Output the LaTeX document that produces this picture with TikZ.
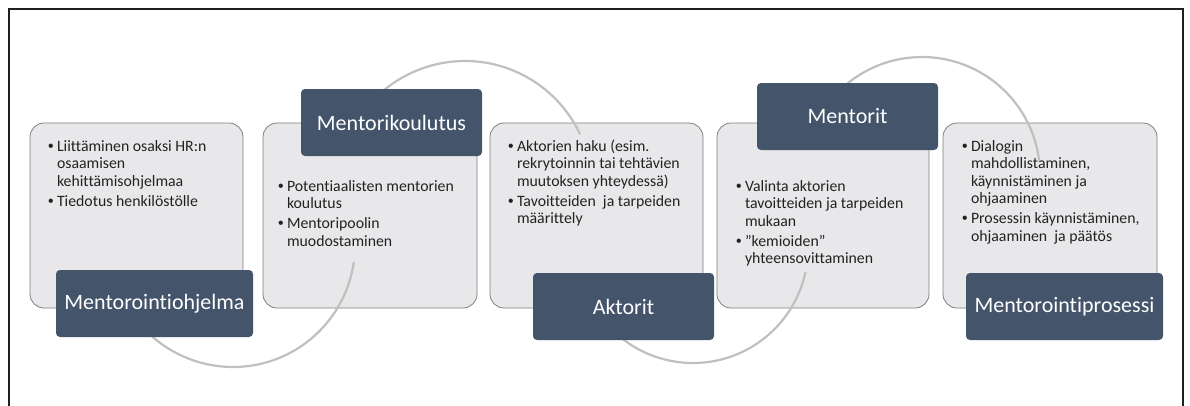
\documentclass[tikz,border=0pt]{standalone}
\usepackage{fontspec}
\setmainfont{Carlito}[Ligatures=NoCommon]
\newfontfamily\bulletfont{Liberation Sans}
\definecolor{darkslate}{HTML}{44546A}
\definecolor{lightfill}{HTML}{E8E8EA}
\definecolor{boxedge}{HTML}{7F7F7F}
\definecolor{arcgray}{HTML}{C0C0C0}
\definecolor{bodyink}{HTML}{222222}
\definecolor{frameink}{HTML}{1E1E1E}
% bullet with a fixed hanging width
\newcommand{\bl}{\makebox[9pt][l]{\bulletfont\textbullet}}
\begin{document}
\begin{tikzpicture}[x=1pt,y=-1pt,
  lightbox/.style={draw=boxedge, line width=0.8pt, fill=lightfill, rounded corners=14pt,
    inner sep=0pt, outer sep=0pt, anchor=north west, minimum height=185pt},
  darkbox/.style={fill=darkslate, rounded corners=4pt, inner sep=0pt, outer sep=0pt,
    anchor=north west, minimum height=67pt, text=white, font=\fontsize{22}{26}\selectfont},
  bodytext/.style={anchor=base west, inner sep=0pt, outer sep=0pt, text=bodyink,
    font=\fontsize{15.8}{17.5}\selectfont},
  flowarc/.style={draw=arcgray, line width=2.2pt},
  frameline/.style={draw=frameink, line width=2pt},
]
\useasboundingbox (0,0) rectangle (1190,405);
\clip (0,0) rectangle (1190,405);
\fill[white] (0,0) rectangle (1190,405);

% outer frame
\draw[frameline] (8.5,410) -- (8.5,8.5) -- (1183,8.5) -- (1183,410);

% content panels
\node[lightbox, minimum width=213pt] (b1) at (30,123) {};
\node[lightbox, minimum width=214pt] (b2) at (263,123) {};
\node[lightbox, minimum width=213pt] (b3) at (490,123) {};
\node[lightbox, minimum width=212pt] (b4) at (717,123) {};
\node[lightbox, minimum width=214pt] (b5) at (943,123) {};

% linking arcs
\coordinate (c1) at (233,245);
\coordinate (c2) at (465,188);
\coordinate (c3) at (693,248);
\coordinate (c4) at (922,175);
\draw[flowarc] ([shift={(140:122)}]c1) arc[start angle=140, end angle=8, radius=122];
\draw[flowarc] ([shift={(225:127)}]c2) arc[start angle=225, end angle=335, radius=127];
\draw[flowarc] ([shift={(140:115)}]c3) arc[start angle=140, end angle=12, radius=115];
\draw[flowarc] ([shift={(220:118)}]c4) arc[start angle=220, end angle=353, radius=118];

% headings
\node[darkbox, minimum width=197pt] (h1) at (56,270) {Mentorointiohjelma};
\node[darkbox, minimum width=181pt] (h2) at (301,89) {Mentorikoulutus};
\node[darkbox, minimum width=181pt] (h3) at (533,273) {Aktorit};
\node[darkbox, minimum width=181pt] (h4) at (757,83) {Mentorit};
\node[darkbox, minimum width=197pt] (h5) at (966,273) {Mentorointiprosessi};

% bullet texts
\node[bodytext] (t1) at (48,151) {\begin{tabular}[t]{@{}l@{}l@{}}
\bl & Liittäminen osaksi HR:n\\
    & osaamisen\\
    & kehittämisohjelmaa\\[2.5pt]
\bl & Tiedotus henkilöstölle
\end{tabular}};
\node[bodytext] (t2) at (278,191) {\begin{tabular}[t]{@{}l@{}l@{}}
\bl & Potentiaalisten mentorien\\
    & koulutus\\[2.5pt]
\bl & Mentoripoolin\\
    & muodostaminen
\end{tabular}};
\node[bodytext] (t3) at (508,151) {\begin{tabular}[t]{@{}l@{}l@{}}
\bl & Aktorien haku (esim.\\
    & rekrytoinnin tai tehtävien\\
    & muutoksen yhteydessä)\\[2.5pt]
\bl & Tavoitteiden\ \ ja tarpeiden\\
    & määrittely
\end{tabular}};
\node[bodytext] (t4) at (736,191) {\begin{tabular}[t]{@{}l@{}l@{}}
\bl & Valinta aktorien\\
    & tavoitteiden ja tarpeiden\\
    & mukaan\\[2.5pt]
\bl & ”kemioiden”\\
    & yhteensovittaminen
\end{tabular}};
\node[bodytext] (t5) at (962,151) {\begin{tabular}[t]{@{}l@{}l@{}}
\bl & Dialogin\\
    & mahdollistaminen,\\
    & käynnistäminen ja\\
    & ohjaaminen\\[2.5pt]
\bl & Prosessin käynnistäminen,\\
    & ohjaaminen\ \ ja päätös
\end{tabular}};
\end{tikzpicture}
\end{document}
